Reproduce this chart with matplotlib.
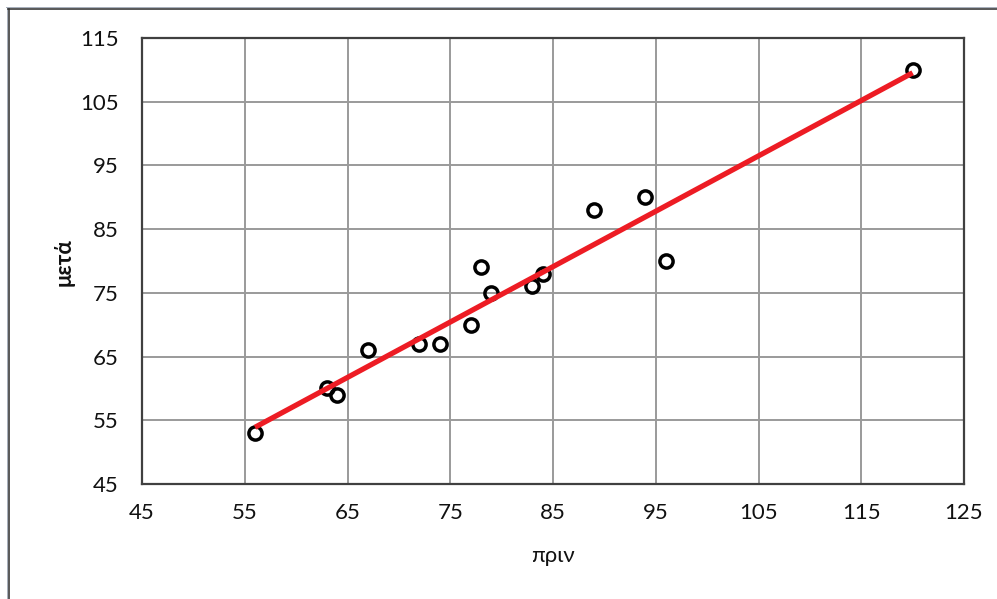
import numpy as np
import matplotlib
matplotlib.use("Agg")
import matplotlib.pyplot as plt
from matplotlib.lines import Line2D

# Measurements before and after
before = [56, 63, 64, 67, 72, 74, 77, 78, 79, 83, 84, 89, 94, 96, 120]
after = [53, 60, 59, 66, 67, 67, 70, 79, 75, 76, 78, 88, 90, 80, 110]

x_ticks = [45, 55, 65, 75, 85, 95, 105, 115, 125]
y_ticks = [45, 55, 65, 75, 85, 95, 105, 115]
x_label = "πριν"
y_label = "μετά"

fonts = ["Lato", "Open Sans", "DejaVu Sans"]
plt.rcParams["font.family"] = fonts

W, H = 997, 599
fig = plt.figure(figsize=(W / 100, H / 100), dpi=100)
ax = fig.add_axes([142 / W, 1 - 484 / H, (964 - 142) / W, (484 - 38) / H])

# linear trend line over the data range
slope, intercept = np.polyfit(before, after, 1)
xs = np.array([min(before), max(before)])
ax.plot(xs, slope * xs + intercept, color="#ED1C24", lw=3.8,
        solid_capstyle="butt", zorder=3)

ax.plot(before, after, linestyle="none", marker="o", markersize=9.5,
        markerfacecolor="none", markeredgecolor="black",
        markeredgewidth=2.5, zorder=2)

ax.set_xlim(45, 125)
ax.set_ylim(45, 115)
ax.set_xticks(x_ticks)
ax.set_yticks(y_ticks)
ax.grid(True, color="#9a9a9a", lw=1.4)
ax.set_axisbelow(True)
ax.tick_params(length=0, labelsize=16, colors="#111111")
ax.tick_params(axis="x", pad=14)
ax.tick_params(axis="y", pad=17)
for s in ax.spines.values():
    s.set_color("#404040")
    s.set_linewidth(1.6)

fig.text(553 / W, 1 - 556 / H, x_label, ha="center", va="center",
         fontsize=16, color="#111111")
fig.text(64 / W, 1 - 262 / H, y_label, ha="center", va="center",
         rotation=90, fontsize=16, fontweight="bold", color="#111111")

# chart frame (left and top edges)
def px(x, y):
    return x / W, 1 - y / H

for (x0, y0, x1, y1, c, w) in [
    (6.5, 7, 6.5, H, "#a8b0bc", 1.0),
    (6, 6.5, W, 6.5, "#a8b0bc", 1.0),
    (8.5, 9, 8.5, H, "#333333", 1.6),
    (8, 9, W, 9, "#333333", 1.6),
]:
    (ax0, ay0), (ax1, ay1) = px(x0, y0), px(x1, y1)
    fig.add_artist(Line2D([ax0, ax1], [ay0, ay1], color=c, lw=w * 0.72,
                          transform=fig.transFigure))

fig.savefig("out.png", dpi=100)
